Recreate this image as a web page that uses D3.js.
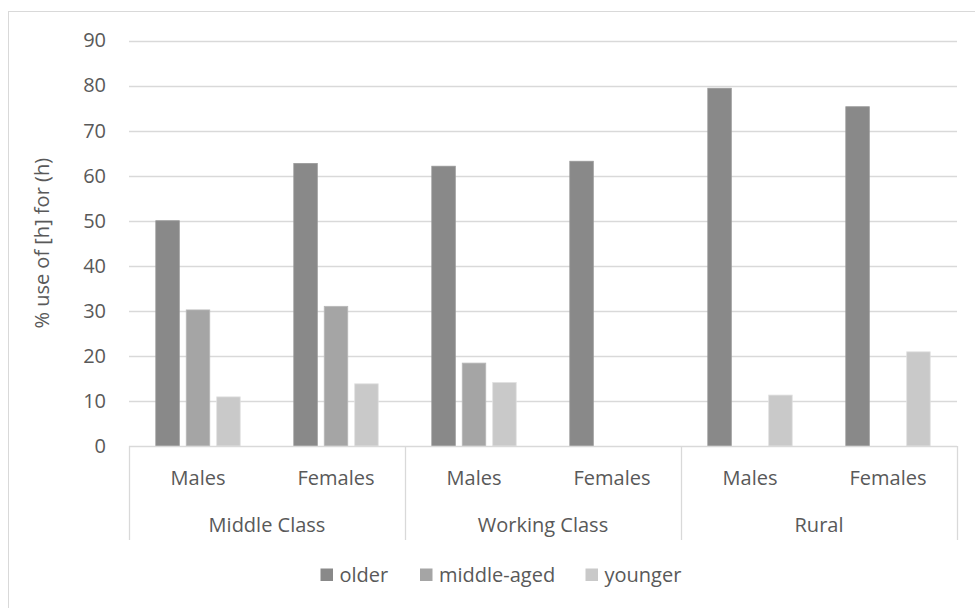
<!DOCTYPE html>
<html>
<head>
<meta charset="utf-8">
<script src="https://cdn.jsdelivr.net/npm/d3@7"></script>
<style>
  html, body { margin: 0; padding: 0; background: #fff; }
  svg { display: block; }
  text { font-family: "Open Sans", "Segoe UI", sans-serif; fill: #595959; }
</style>
</head>
<body>
<svg id="chart" width="975" height="608"></svg>
<script>
// Groups and sub-categories along the x axis
const groups = ["Middle Class", "Working Class", "Rural"];
const subCategories = ["Males", "Females"];

// Series (age groups) and their fills
const series = ["older", "middle-aged", "younger"];
const seriesColors = ["#898989", "#a5a5a5", "#c9c9c9"];

// Values per series, in order: MC Males, MC Females, WC Males, WC Females, Rural Males, Rural Females
const olderValues = [50, 62.7, 62.1, 63.2, 79.4, 75.3];
const middleAgedValues = [30.2, 31, 18.4, null, null, null];
const youngerValues = [10.9, 13.8, 14.1, null, 11.3, 20.9];

// Y axis ticks
const yTicks = [0, 10, 20, 30, 40, 50, 60, 70, 80, 90];
const yTitle = "% use of [h] for (h)";

const seriesValues = [olderValues, middleAgedValues, youngerValues];

const svg = d3.select("#chart");
const plot = { left: 129, right: 957, top: 40.5, bottom: 446 };
const gridColor = "#d9d9d9";

// Outer chart frame
svg.append("rect")
  .attr("x", 8.5).attr("y", 11.5)
  .attr("width", 1000).attr("height", 700)
  .attr("fill", "none").attr("stroke", gridColor).attr("stroke-width", 1);

// Category keys combine group and sub-category
const cats = [];
groups.forEach(g => subCategories.forEach(s => cats.push({ group: g, sub: s, key: g + "|" + s })));

const x0 = d3.scaleBand().domain(cats.map(d => d.key)).range([plot.left, plot.right]).padding(0);
const half = 42.2;
const x1 = d3.scaleBand().domain(series)
  .range([x0.bandwidth() / 2 - half, x0.bandwidth() / 2 + half])
  .paddingInner(0.228).paddingOuter(0);
const xg = d3.scaleBand().domain(groups).range([plot.left, plot.right]).padding(0);

const y = d3.scaleLinear().domain([0, 90]).range([plot.bottom, plot.top]);

// Horizontal gridlines
svg.append("g")
  .selectAll("line")
  .data(yTicks.filter(t => t > 0))
  .join("line")
  .attr("x1", plot.left).attr("x2", plot.right)
  .attr("y1", d => Math.round(y(d)) + 0.5).attr("y2", d => Math.round(y(d)) + 0.5)
  .attr("stroke", gridColor).attr("stroke-width", 1.3);

// Y axis labels
const yAxis = d3.axisLeft(y).tickValues(yTicks).tickSize(0).tickPadding(23);
const yg = svg.append("g").attr("transform", `translate(${plot.left},0)`).call(yAxis);
yg.select(".domain").remove();
yg.selectAll("text")
  .attr("font-size", 20)
  .style("font-family", "'Open Sans', sans-serif")
  .attr("fill", "#595959");

// Y axis title
svg.append("text")
  .attr("transform", `translate(49, ${(plot.top + plot.bottom) / 2}) rotate(-90)`)
  .attr("text-anchor", "middle")
  .attr("font-size", 20)
  .text(yTitle);

// Bars
const barData = [];
cats.forEach((c, i) => {
  series.forEach((s, j) => {
    const v = seriesValues[j][i];
    if (v != null) barData.push({ key: c.key, series: s, value: v, color: seriesColors[j] });
  });
});

svg.append("g")
  .selectAll("rect")
  .data(barData)
  .join("rect")
  .attr("x", d => x0(d.key) + x1(d.series))
  .attr("y", d => y(d.value))
  .attr("width", x1.bandwidth())
  .attr("height", d => y(0) - y(d.value))
  .attr("fill", d => d.color)
  .attr("stroke", d => d3.color(d.color).brighter(0.3))
  .attr("stroke-width", 0.8);

// Category axis: baseline and group separators
const axisBottom = 540;
svg.append("line")
  .attr("x1", plot.left).attr("x2", plot.right)
  .attr("y1", plot.bottom + 0.5).attr("y2", plot.bottom + 0.5)
  .attr("stroke", gridColor).attr("stroke-width", 1.3);

const seps = groups.map(g => xg(g)).concat([plot.right]);
svg.append("g")
  .selectAll("line")
  .data(seps)
  .join("line")
  .attr("x1", d => Math.round(d) + 0.5).attr("x2", d => Math.round(d) + 0.5)
  .attr("y1", plot.bottom).attr("y2", axisBottom)
  .attr("stroke", gridColor).attr("stroke-width", 1.3);

// Sub-category labels
svg.append("g")
  .selectAll("text")
  .data(cats)
  .join("text")
  .attr("x", d => x0(d.key) + x0.bandwidth() / 2)
  .attr("y", 478)
  .attr("dy", "0.35em")
  .attr("text-anchor", "middle")
  .attr("font-size", 20)
  .text(d => d.sub);

// Group labels
svg.append("g")
  .selectAll("text")
  .data(groups)
  .join("text")
  .attr("x", d => xg(d) + xg.bandwidth() / 2)
  .attr("y", 525)
  .attr("dy", "0.35em")
  .attr("text-anchor", "middle")
  .attr("font-size", 20)
  .text(d => d);

// Legend
const legendX = [320.5, 420, 585.5];
const legend = svg.append("g")
  .selectAll("g")
  .data(series)
  .join("g")
  .attr("transform", (d, i) => `translate(${legendX[i]}, 575)`);
legend.append("rect")
  .attr("x", 0).attr("y", -6.5)
  .attr("width", 12.5).attr("height", 12.5)
  .attr("fill", (d, i) => seriesColors[i]);
legend.append("text")
  .attr("x", 19).attr("y", 0)
  .attr("dy", "0.35em")
  .attr("font-size", 20)
  .text(d => d);
</script>
</body>
</html>
